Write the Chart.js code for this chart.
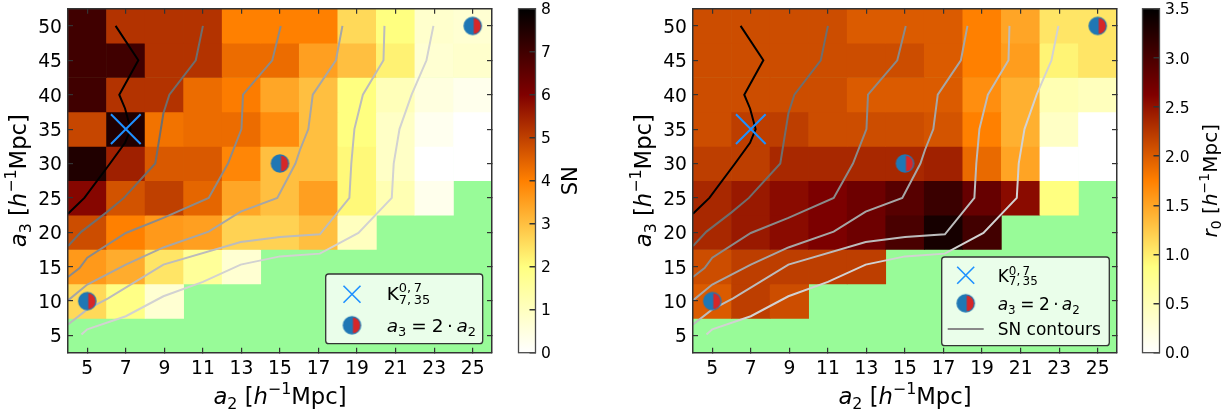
<!DOCTYPE html>
<html>
<head>
<meta charset="utf-8">
<title>SN and r0 over a2, a3</title>
<script src="https://cdn.jsdelivr.net/npm/chart.js@4"></script>
<style>
    html, body { margin: 0; padding: 0; background: #fff; }
    body { position: relative; width: 1232px; height: 414px; overflow: hidden; }
    canvas { position: absolute; top: 0; }
</style>
</head>
<body>
<canvas id="snPanel" width="500" height="414" style="left:0"></canvas>
<canvas id="snBar" width="100" height="414" style="left:510px"></canvas>
<canvas id="r0Panel" width="500" height="414" style="left:625px"></canvas>
<canvas id="r0Bar" width="97" height="414" style="left:1135px"></canvas>
<script>
// columns and rows of the grid
const a2Labels = ["5", "7", "9", "11", "13", "15", "17", "19", "21", "23", "25"];
const a3Rows = [50, 45, 40, 35, 30, 25, 20, 15, 10, 5];
const a3Ticks = [5, 10, 15, 20, 25, 30, 35, 40, 45, 50];

// same row order as a3Rows, null = no measurement (green)
const snRows = [
    [7.0, 5.2, 5.2, 5.2, 4.0, 4.0, 4.0, 2.6, 2.0, 0.8, 0.7],
    [7.0, 7.0, 5.2, 5.2, 4.3, 4.3, 3.5, 3.0, 2.2, 0.7, 0.8],
    [7.0, 5.2, 5.2, 4.3, 4.05, 3.4, 3.0, 2.0, 1.1, 0.5, 0.3],
    [4.9, 7.5, 4.2, 4.3, 4.3, 3.8, 3.0, 2.0, 0.9, 0.25, 0.0],
    [7.5, 5.5, 4.6, 4.6, 3.9, 3.0, 3.0, 2.1, 0.9, 0.0, 0.0],
    [5.9, 4.7, 5.0, 4.4, 3.4, 3.0, 3.5, 2.1, 1.2, 0.3, null],
    [4.8, 4.0, 3.6, 3.5, 2.7, 2.7, 3.0, 1.0, null, null, null],
    [3.6, 3.3, 2.4, 1.6, 0.7, null, null, null, null, null, null],
    [2.6, 1.9, 0.7, null, null, null, null, null, null, null, null],
    [null, null, null, null, null, null, null, null, null, null, null]
];
const r0Rows = [
    [2.1, 2.1, 2.1, 2.1, 2.0, 2.0, 2.0, 1.75, 1.49, 1.05, 1.05],
    [2.1, 2.1, 2.1, 2.1, 2.1, 2.1, 2.0, 1.75, 1.55, 0.95, 1.05],
    [2.1, 2.1, 2.1, 2.1, 2.0, 2.0, 2.0, 1.65, 1.42, 0.52, 0.45],
    [2.1, 2.2, 2.2, 2.1, 2.1, 2.1, 2.05, 1.75, 1.42, 0.4, 0.0],
    [2.2, 2.2, 2.35, 2.35, 2.35, 2.35, 2.4, 1.9, 1.5, 0.0, 0.0],
    [2.35, 2.45, 2.55, 2.65, 2.75, 2.9, 3.1, 2.8, 2.55, 0.87, null],
    [2.35, 2.45, 2.55, 2.65, 2.75, 3.0, 3.35, 3.05, null, null, null],
    [2.1, 2.2, 2.2, 2.2, 2.2, null, null, null, null, null, null],
    [2.0, 2.2, 2.1, null, null, null, null, null, null, null, null],
    [null, null, null, null, null, null, null, null, null, null, null]
];

// SN contours, [a2, a3]
const contour1 = [[6.47, 50], [7.65, 45], [6.66, 40], [6.96, 38], [7.25, 35], [6.96, 33], [6.18, 30], [4.85, 25], [4.0, 22.7]];
const contour2 = [[11.0, 50], [10.63, 45], [9.26, 40], [8.95, 37.3], [8.53, 30], [6.9, 25], [6.0, 22.9], [4.7, 20.1], [4.0, 18.0]];
const contour3 = [[15.04, 50], [14.6, 45], [13.08, 40], [13.0, 35], [12.3, 30], [11.3, 25], [8.95, 22.1], [7.0, 19.9], [5.0, 16.3], [4.6, 14.8], [4.0, 13.5]];
const contour4 = [[18.24, 50], [17.9, 45], [16.7, 40], [16.47, 35], [16.04, 32], [15.8, 30], [14.86, 25], [12.96, 23], [11.3, 20.1], [8.95, 17.8], [7.0, 15.3], [5.0, 12.4], [4.0, 10.1]];
const contour5 = [[20.42, 50], [20.37, 45], [19.3, 40], [18.86, 35], [18.7, 30], [18.6, 25], [17.07, 19.7], [15.0, 19.3], [12.96, 18.6], [8.95, 15.3], [6.08, 10.4], [5.0, 8.8], [4.0, 6.6]];
const contour6 = [[22.96, 50], [22.6, 45], [21.83, 40], [21.2, 35], [20.9, 30], [20.8, 25], [19.07, 19.9], [17.07, 16.9], [15.0, 16.5], [12.96, 15.3], [11.0, 12.8], [8.95, 10.7], [7.0, 7.8], [5.0, 5.9], [4.7, 5.15]];
const contours = [contour1, contour2, contour3, contour4, contour5, contour6];
const contourColors = ["#000000", "#6e6e6e", "#8a8a8a", "#a6a6a6", "#bcbcbc", "#d2d2d2"];

const kernelPoint = [{x: 7, y: 35}];
const halfPoints = [{x: 5, y: 10}, {x: 15, y: 30}, {x: 25, y: 50}];

const snTicks = 1;
const r0Ticks = 0.5;

const inkColor = "#000000";
const spineColor = "#333333";
const greenColor = "#98fb98";
const blue = "#1f77b4";
const red = "#d62728";
const crossBlue = "#1e90ff";

Chart.defaults.font.family = "'DejaVu Sans'";
Chart.defaults.color = inkColor;

// afmhot reversed, 0 is white and 1 black
function afmhotR(t) {
    const x = 1 - Math.min(1, Math.max(0, t));
    const r = Math.min(1, Math.max(0, 2 * x));
    const g = Math.min(1, Math.max(0, 2 * x - 0.5));
    const b = Math.min(1, Math.max(0, 2 * x - 1));
    return "rgb(" + Math.round(r * 255) + "," + Math.round(g * 255) + "," + Math.round(b * 255) + ")";
}

// the half filled disc, used as pointStyle and again in the legend
function makeHalfDisc(radius) {
    const size = Math.ceil(radius * 2 + 2);
    const c = document.createElement("canvas");
    c.width = size;
    c.height = size;
    const g = c.getContext("2d");
    const m = size / 2;
    g.fillStyle = blue;
    g.beginPath();
    g.arc(m, m, radius, 0, Math.PI * 2);
    g.fill();
    // red half sits just right of the middle, inside the blue edge
    g.save();
    g.beginPath();
    g.rect(m + 1, 0, size, size);
    g.clip();
    g.fillStyle = red;
    g.beginPath();
    g.arc(m, m, radius - 1.2, 0, Math.PI * 2);
    g.fill();
    g.restore();
    return c;
}
const halfDisc = makeHalfDisc(9.3);

// mathtext pieces
const it = function (t) { return {t: t, italic: true}; };
const sub = function (t) { return {t: t, shift: 0.22, scale: 0.7}; };
const sup = function (t) { return {t: t, shift: -0.42, scale: 0.7}; };
const upOnly = function (t) { return {t: t, shift: -0.42, scale: 0.7, noAdvance: true}; };

const a2Title = [it("a"), sub("2"), " [", it("h"), sup("\u22121"), "Mpc]"];
const a3Title = [it("a"), sub("3"), " [", it("h"), sup("\u22121"), "Mpc]"];
const r0Title = [it("r"), sub("0"), " [", it("h"), sup("\u22121"), "Mpc]"];
const kernelLabel = ["K", upOnly("0,\u20097"), sub("7,\u200935")];
const ratioLabel = [
    it("a"), sub("3"), {t: "=", before: 0.27}, {t: "2", before: 0.27}, {t: "\u00b7", before: 0.19},
    {t: "a", italic: true, before: 0.19}, sub("2")
];

function fontFor(seg, size) {
    const px = size * (seg.scale || 1);
    return (seg.italic ? "oblique " : "") + px + "px 'DejaVu Sans'";
}

// draws pieces on one baseline, anchor "center" or "left"
function drawRich(ctx, segs, x, y, size, anchor, rotate) {
    const parts = segs.map(function (s) { return typeof s === "string" ? {t: s} : s; });
    let total = 0;
    parts.forEach(function (p) {
        ctx.font = fontFor(p, size);
        total += (p.before || 0) * size;
        if (!p.noAdvance) total += ctx.measureText(p.t).width;
    });
    ctx.save();
    ctx.translate(x, y);
    if (rotate) ctx.rotate(rotate);
    ctx.fillStyle = inkColor;
    ctx.textAlign = "left";
    ctx.textBaseline = "alphabetic";
    let cx = anchor === "center" ? -total / 2 : 0;
    parts.forEach(function (p) {
        ctx.font = fontFor(p, size);
        cx += (p.before || 0) * size;
        ctx.fillText(p.t, cx, (p.shift || 0) * size);
        if (!p.noAdvance) cx += ctx.measureText(p.t).width;
    });
    ctx.restore();
}

function drawLegend(ctx, box) {
    ctx.save();
    ctx.beginPath();
    ctx.roundRect(box.x, box.y, box.w, box.h, 3);
    ctx.fillStyle = "rgba(255,255,255,0.8)";
    ctx.fill();
    ctx.lineWidth = 1.3;
    ctx.strokeStyle = spineColor;
    ctx.stroke();

    const half = box.crossSize / 2;
    ctx.strokeStyle = crossBlue;
    ctx.lineWidth = 1.6;
    ctx.beginPath();
    ctx.moveTo(box.markX - half, box.crossY - half);
    ctx.lineTo(box.markX + half, box.crossY + half);
    ctx.moveTo(box.markX - half, box.crossY + half);
    ctx.lineTo(box.markX + half, box.crossY - half);
    ctx.stroke();
    ctx.drawImage(halfDisc, box.markX - halfDisc.width / 2, box.discY - halfDisc.height / 2);

    drawRich(ctx, kernelLabel, box.textX, box.kernelBase, box.font, "left");
    drawRich(ctx, ratioLabel, box.textX, box.ratioBase, box.font, "left");
    if (box.lineY) {
        ctx.strokeStyle = "#8a8a8a";
        ctx.lineWidth = 2;
        ctx.beginPath();
        ctx.moveTo(box.markX - 18, box.lineY);
        ctx.lineTo(box.markX + 18, box.lineY);
        ctx.stroke();
        drawRich(ctx, ["SN contours"], box.textX, box.lineBase, box.font, "left");
    }
    ctx.restore();
}

// the axes area is fixed, the axes themselves get exact sizes and no label padding
function fixSize(prop, value) {
    return function (scale) {
        scale[prop] = value;
        scale.paddingTop = 0;
        scale.paddingBottom = 0;
        scale.paddingLeft = 0;
        scale.paddingRight = 0;
    };
}

function tickAxis(extra) {
    return Object.assign({
        grid: {display: true, drawOnChartArea: false, drawTicks: true, tickLength: -5, color: spineColor, lineWidth: 1.2, z: 1, offset: false},
        border: {display: true, color: spineColor, width: 1.5, z: 1}
    }, extra);
}

function heatPanel(canvasId, rows, vmax, legendBox) {
    const datasets = [];
    rows.forEach(function (row, r) {
        datasets.push({
            type: "bar",
            order: 20,
            xAxisID: "x",
            yAxisID: "y",
            data: row.map(function (v) { return v === null ? null : [a3Rows[r] - 2.5, a3Rows[r] + 2.5]; }),
            backgroundColor: row.map(function (v) { return v === null ? "rgba(0,0,0,0)" : afmhotR(v / vmax); }),
            grouped: false,
            barPercentage: 1,
            categoryPercentage: 1,
            borderWidth: 0
        });
    });
    contours.forEach(function (line, i) {
        datasets.push({
            type: "line",
            order: 10 - i,
            xAxisID: "xL",
            yAxisID: "y",
            data: line.map(function (p) { return {x: p[0], y: p[1]}; }),
            borderColor: contourColors[i],
            borderWidth: 2,
            pointRadius: 0,
            tension: 0,
            fill: false
        });
    });
    datasets.push({
        type: "line",
        order: 1,
        xAxisID: "xL",
        yAxisID: "y",
        data: halfPoints,
        showLine: false,
        pointStyle: halfDisc,
        pointRadius: 10
    });
    datasets.push({
        type: "line",
        order: 0,
        xAxisID: "xL",
        yAxisID: "y",
        data: kernelPoint,
        showLine: false,
        pointStyle: "crossRot",
        pointRadius: 21,
        pointBorderColor: crossBlue,
        pointBorderWidth: 2
    });

    return new Chart(document.getElementById(canvasId), {
        type: "bar",
        data: {labels: a2Labels, datasets: datasets},
        plugins: [{
            id: "panelDecor",
            beforeDatasetsDraw: function (chart) {
                const a = chart.chartArea;
                chart.ctx.fillStyle = greenColor;
                chart.ctx.fillRect(a.left, a.top, a.right - a.left, a.bottom - a.top);
            },
            afterDraw: function (chart) {
                const ctx = chart.ctx;
                const a = chart.chartArea;
                drawRich(ctx, a2Title, (a.left + a.right) / 2, 404, 22.7, "center");
                drawRich(ctx, a3Title, 26, (a.top + a.bottom) / 2, 22.7, "center", -Math.PI / 2);
                drawLegend(ctx, legendBox);
            }
        }],
        options: {
            responsive: false,
            animation: false,
            events: [],
            layout: {autoPadding: false, padding: 0},
            plugins: {legend: {display: false}, tooltip: {enabled: false}, title: {display: false}},
            scales: {
                x: tickAxis({
                    type: "category",
                    position: "bottom",
                    offset: true,
                    afterFit: fixSize("height", 61.3),
                    ticks: {font: {size: 18.7}, padding: 10.5, maxRotation: 0, autoSkip: false, color: inkColor}
                }),
                xTop: tickAxis({
                    type: "category",
                    position: "top",
                    offset: true,
                    afterFit: fixSize("height", 8.7),
                    ticks: {display: false}
                }),
                xL: {type: "linear", display: false, min: 4, max: 26, offset: false, afterFit: fixSize("height", 0)},
                y: tickAxis({
                    type: "linear",
                    position: "left",
                    min: 2.5,
                    max: 52.5,
                    afterBuildTicks: function (scale) { scale.ticks = a3Ticks.map(function (v) { return {value: v}; }); },
                    afterFit: fixSize("width", 68),
                    ticks: {font: {size: 18.7}, padding: 11, labelOffset: 2, color: inkColor}
                }),
                yRight: tickAxis({
                    type: "linear",
                    position: "right",
                    min: 2.5,
                    max: 52.5,
                    afterBuildTicks: function (scale) { scale.ticks = a3Ticks.map(function (v) { return {value: v}; }); },
                    afterFit: fixSize("width", 8),
                    ticks: {display: false}
                })
            }
        }
    });
}

function colorBar(canvasId, vmax, step, areaLeft, areaWidth, drawTitle) {
    const canvas = document.getElementById(canvasId);
    return new Chart(canvas, {
        type: "bar",
        data: {
            labels: [""],
            datasets: [{
                data: [[0, vmax]],
                barPercentage: 1,
                categoryPercentage: 1,
                borderWidth: 0,
                backgroundColor: function (context) {
                    const a = context.chart.chartArea;
                    if (!a) return "#000";
                    const grad = context.chart.ctx.createLinearGradient(0, a.bottom, 0, a.top);
                    [0, 0.25, 0.5, 0.75, 1].forEach(function (t) { grad.addColorStop(t, afmhotR(t)); });
                    return grad;
                }
            }]
        },
        plugins: [{
            id: "barDecor",
            afterDraw: function (chart) {
                const ctx = chart.ctx;
                const a = chart.chartArea;
                ctx.save();
                ctx.strokeStyle = "#4a4a4a";
                ctx.lineWidth = 1.3;
                ctx.strokeRect(a.left, a.top, a.right - a.left, a.bottom - a.top);
                ctx.restore();
                drawTitle(ctx, a);
            }
        }],
        options: {
            responsive: false,
            animation: false,
            events: [],
            layout: {autoPadding: false, padding: {left: areaLeft, top: 8.7, bottom: 61.3}},
            plugins: {legend: {display: false}, tooltip: {enabled: false}},
            scales: {
                x: {type: "category", display: false, offset: true, afterFit: fixSize("height", 0)},
                y: {
                    type: "linear",
                    position: "right",
                    min: 0,
                    max: vmax,
                    afterFit: fixSize("width", canvas.width - areaLeft - areaWidth),
                    grid: {display: true, drawOnChartArea: false, drawTicks: true, tickLength: -6, color: spineColor, lineWidth: 1.5, z: 1},
                    border: {display: false},
                    ticks: {
                        stepSize: step,
                        font: {size: 15.5},
                        padding: 11.5,
                        labelOffset: 1.7,
                        color: inkColor,
                        callback: function (v) { return step < 1 ? v.toFixed(1) : String(v); }
                    }
                }
            }
        }
    });
}

heatPanel("snPanel", snRows, 8, {
    x: 325.7, y: 274, w: 157, h: 69.7, markX: 352, crossY: 294.3, discY: 325.3, crossSize: 17,
    textX: 386.7, kernelBase: 300, ratioBase: 331.7, font: 18.5
});
heatPanel("r0Panel", r0Rows, 3.5, {
    x: 316.7, y: 257, w: 167.6, h: 88.7, markX: 340.7, crossY: 275.3, discY: 303.3, crossSize: 17,
    textX: 372.7, kernelBase: 281.7, ratioBase: 310, lineY: 329, lineBase: 335, font: 17
});
colorBar("snBar", 8, snTicks, 8.5, 17, function (ctx, a) {
    drawRich(ctx, ["SN"], 67, (a.top + a.bottom) / 2, 21, "center", -Math.PI / 2);
});
colorBar("r0Bar", 3.5, r0Ticks, 7.5, 17, function (ctx, a) {
    drawRich(ctx, r0Title, 82, (a.top + a.bottom) / 2, 20, "center", -Math.PI / 2);
});
</script>
</body>
</html>
